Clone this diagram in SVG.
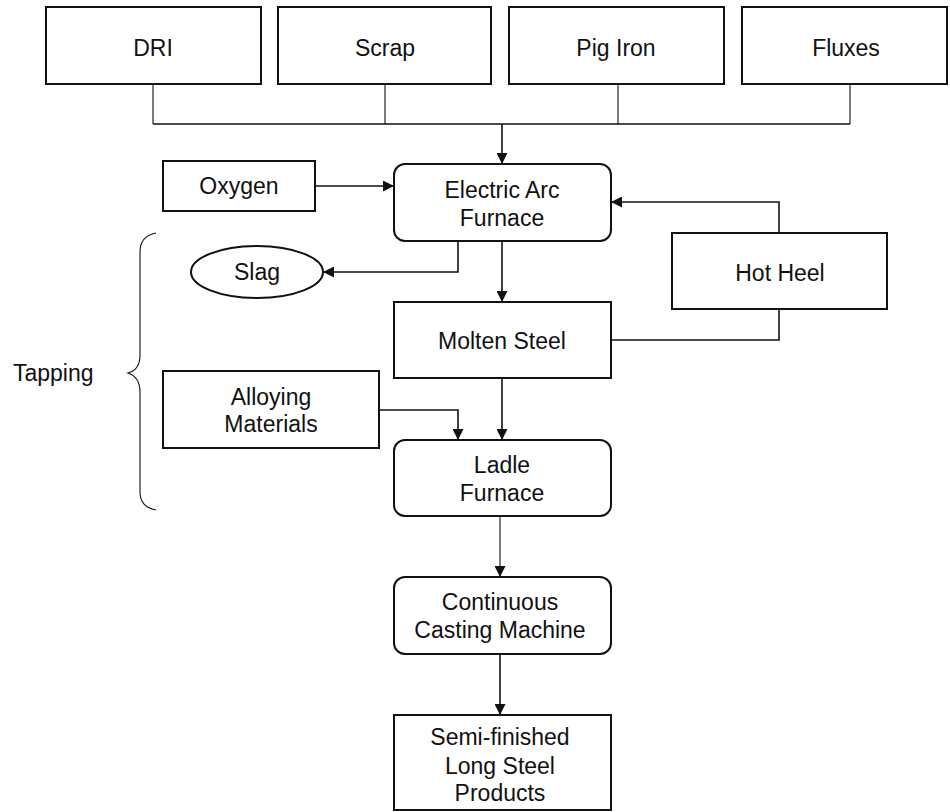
<svg xmlns="http://www.w3.org/2000/svg" width="950" height="812" viewBox="0 0 950 812">
  <style>
    .box { fill: #fff; stroke: #111; stroke-width: 2; }
    .lbl { font-family: "Liberation Sans", Arial, sans-serif; font-size: 23px; fill: #111; text-anchor: middle; }
    .wire { fill: none; stroke: #111; stroke-width: 1.6; }
    .thin { fill: none; stroke: #111; stroke-width: 1.1; }
  </style>
  <defs>
    <marker id="arrow" viewBox="0 0 10 10" refX="10" refY="5" markerWidth="12" markerHeight="11" markerUnits="userSpaceOnUse" orient="auto">
      <path d="M0,0 L10,5 L0,10 Z" fill="#111"/>
    </marker>
  </defs>
  <rect width="950" height="812" fill="#fff"/>

  <!-- connectors -->
  <g id="connectors">
    <!-- raw material feed bus -->
    <path class="thin" d="M153,84 V124 M385,84 V124 M618,84 V124 M850,84 V124"/>
    <path class="wire" d="M153,124 H850"/>
    <path class="wire" d="M502,124 V164" marker-end="url(#arrow)"/>
    <!-- oxygen to EAF -->
    <path class="wire" d="M315,186 H394" marker-end="url(#arrow)"/>
    <!-- hot heel return to EAF -->
    <path class="wire" d="M779,233 V202 H611" marker-end="url(#arrow)"/>
    <!-- EAF to slag -->
    <path class="wire" d="M458,241 V272 H323" marker-end="url(#arrow)"/>
    <!-- EAF to molten steel -->
    <path class="wire" d="M502,241 V302" marker-end="url(#arrow)"/>
    <!-- molten steel to hot heel -->
    <path class="wire" d="M611,340 H779 V309"/>
    <!-- molten steel to ladle furnace -->
    <path class="wire" d="M502,378 V440" marker-end="url(#arrow)"/>
    <!-- alloying materials to ladle furnace -->
    <path class="wire" d="M379,410 H458 V440" marker-end="url(#arrow)"/>
    <!-- ladle furnace to caster -->
    <path class="thin" d="M500,516 V577" marker-end="url(#arrow)"/>
    <!-- caster to products -->
    <path class="wire" d="M500,654 V715" marker-end="url(#arrow)"/>
    <!-- tapping brace -->
    <path class="thin" d="M156,233 Q140,236 140,252 V355 Q140,370 128,373 Q140,377 140,392 V492 Q140,507 156,510"/>
  </g>

  <g id="dri">
    <rect class="box" x="46" y="7" width="215" height="77"/>
    <text class="lbl" x="153" y="56">DRI</text>
  </g>
  <g id="scrap">
    <rect class="box" x="278" y="7" width="213" height="77"/>
    <text class="lbl" x="385" y="56">Scrap</text>
  </g>
  <g id="pig-iron">
    <rect class="box" x="509" y="7" width="215" height="77"/>
    <text class="lbl" x="616" y="56">Pig Iron</text>
  </g>
  <g id="fluxes">
    <rect class="box" x="742" y="7" width="205" height="77"/>
    <text class="lbl" x="846" y="56">Fluxes</text>
  </g>

  <g id="oxygen">
    <rect class="box" x="163" y="161" width="152" height="50"/>
    <text class="lbl" x="239" y="194">Oxygen</text>
  </g>
  <g id="eaf">
    <rect class="box" x="394" y="164" width="217" height="77" rx="11"/>
    <text class="lbl" x="502" y="198">Electric Arc</text>
    <text class="lbl" x="502" y="226">Furnace</text>
  </g>

  <g id="slag">
    <ellipse class="box" cx="257" cy="272" rx="66" ry="26"/>
    <text class="lbl" x="257" y="280">Slag</text>
  </g>
  <g id="hot-heel">
    <rect class="box" x="672" y="233" width="215" height="76"/>
    <text class="lbl" x="780" y="281">Hot Heel</text>
  </g>

  <g id="molten-steel">
    <rect class="box" x="394" y="302" width="217" height="76"/>
    <text class="lbl" x="502" y="349">Molten Steel</text>
  </g>

  <g id="tapping">
    <text class="lbl" x="13" y="381" style="text-anchor:start">Tapping</text>
  </g>

  <g id="alloying">
    <rect class="box" x="163" y="371" width="216" height="77"/>
    <text class="lbl" x="271" y="405">Alloying</text>
    <text class="lbl" x="271" y="432">Materials</text>
  </g>

  <g id="ladle-furnace">
    <rect class="box" x="394" y="440" width="217" height="76" rx="11"/>
    <text class="lbl" x="502" y="473">Ladle</text>
    <text class="lbl" x="502" y="501">Furnace</text>
  </g>

  <g id="caster">
    <rect class="box" x="394" y="577" width="217" height="77" rx="11"/>
    <text class="lbl" x="500" y="610">Continuous</text>
    <text class="lbl" x="500" y="638">Casting Machine</text>
  </g>

  <g id="products">
    <rect class="box" x="394" y="715" width="217" height="95"/>
    <text class="lbl" x="500" y="745">Semi-finished</text>
    <text class="lbl" x="500" y="774">Long Steel</text>
    <text class="lbl" x="500" y="801">Products</text>
  </g>
</svg>
